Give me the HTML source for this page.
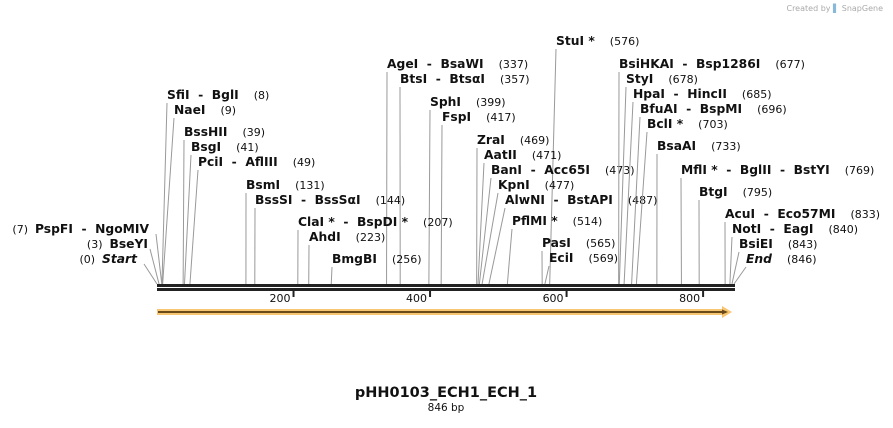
<!DOCTYPE html>
<html><head><meta charset="utf-8"><style>
body{margin:0;background:#fff;width:893px;height:423px;overflow:hidden}
svg{font-family:"DejaVu Sans","Liberation Sans",sans-serif}
svg text{white-space:pre}
.n{font-weight:bold;font-size:12.3px;fill:#111}
.p{font-size:11px;fill:#111}
</style></head><body>
<svg id="map" width="893" height="423" viewBox="0 0 893 423">
<text x="883" y="11" text-anchor="end" font-size="8" fill="#aaa">Created by <tspan fill="#8ab8d8">▌</tspan> SnapGene</text>
<g id="sites"></g>
<rect x="157" y="284" width="578" height="3" fill="#222"/>
<rect x="157" y="288" width="578" height="3" fill="#222"/>
<g id="ticks"></g>
<g>
<rect x="157" y="309" width="566" height="6" fill="#f8c572"/>
<polygon points="722,306 732,312 722,318" fill="#f8c572"/>
<line x1="158" y1="312" x2="726" y2="312" stroke="#6b4a1a" stroke-width="2"/>
<polygon points="722,309.5 728,312 722,314.5" fill="#6b4a1a"/>
</g>
<text x="446" y="397" text-anchor="middle" font-weight="bold" font-size="14.5" fill="#111">pHH0103_ECH1_ECH_1</text>
<text x="446" y="411" text-anchor="middle" font-size="10.5" fill="#111">846 bp</text>
</svg>
<script>
const names=["StuI *","AgeI  -  BsaWI","BtsI  -  BtsαI","SfiI  -  BglI","SphI","NaeI","FspI","BssHII","ZraI","BsgI","AatII","PciI  -  AflIII","BanI  -  Acc65I","KpnI","BsmI","BssSI  -  BssSαI","AlwNI  -  BstAPI","PflMI *","ClaI *  -  BspDI *","AhdI","PasI","EciI","BmgBI","BsiHKAI  -  Bsp1286I","StyI","HpaI  -  HincII","BfuAI  -  BspMI","BclI *","BsaAI","MflI *  -  BglII  -  BstYI","BtgI","AcuI  -  Eco57MI","NotI  -  EagI","BsiEI","End"];
const positions=[576,337,357,8,399,9,417,39,469,41,471,49,473,477,131,144,487,514,207,223,565,569,256,677,678,685,696,703,733,769,795,833,840,843,846];
const labelX=[556,387,400,167,430,174,442,184,477,191,484,198,491,498,246,255,505,512,298,309,542,549,332,619,626,633,640,647,657,681,699,725,732,739,746];
const labelY=[45,68,83,99,106,114,121,136,144,151,159,166,174,189,189,204,204,225,226,241,247,262,263,68,83,98,113,128,150,174,196,218,233,248,263];
const leftNames=["PspFI  -  NgoMIV","BseYI","Start"];
const leftPos=[7,3,0];
const leftY=[233,248,263];
const tickVals=[200,400,600,800];
const total=846;
const x0=156.5,x1=734;
const leftRight=[149,148,137];
const leftLineX=[156,150,144];
function sx(bp){return x0+(x1-x0)*bp/total;}
const NS="http://www.w3.org/2000/svg";
const g=document.getElementById('sites');
function mk(t,a){const e=document.createElementNS(NS,t);for(const k in a)e.setAttribute(k,a[k]);return e;}
names.forEach((n,i)=>{
 const l=mk('line',{x1:labelX[i],y1:labelY[i]+4,x2:sx(positions[i]),y2:284,stroke:'#999','stroke-width':1});
 
 
 g.appendChild(l);
 const t=mk('text',{x:labelX[i],y:labelY[i]});
 
 
 const a=mk('tspan',{class:'n'});a.textContent=n;
 if(n==='End'){a.setAttribute('font-style','italic');}
 const b=mk('tspan',{class:'p',dx:15});b.textContent='('+positions[i]+')';
 t.appendChild(a);t.appendChild(b);g.appendChild(t);
});
leftNames.forEach((n,i)=>{
 const l=mk('line',{x1:leftLineX[i],y1:leftY[i]+1,x2:sx(leftPos[i])+0.5,y2:284,stroke:'#999','stroke-width':1});
 
 
 g.appendChild(l);
 const t=mk('text',{x:leftRight[i],y:leftY[i],'text-anchor':'end'});
 
 
 const b=mk('tspan',{class:'p'});b.textContent='('+leftPos[i]+')  ';
 const a=mk('tspan',{class:'n'});a.textContent=n;
 if(n==='Start')a.setAttribute('font-style','italic');
 t.appendChild(b);t.appendChild(a);g.appendChild(t);
});
const tg=document.getElementById('ticks');
tickVals.forEach(v=>{
 const x=sx(v)+0.5;
 const l=mk('line',{x1:x,y1:290,x2:x,y2:297,stroke:'#222','stroke-width':2});
 
 
 tg.appendChild(l);
 const t=mk('text',{x:x-3,y:302,'text-anchor':'end','font-size':'11',fill:'#111'});
 
 
 t.textContent=v;tg.appendChild(t);
});
</script>
</body></html>
